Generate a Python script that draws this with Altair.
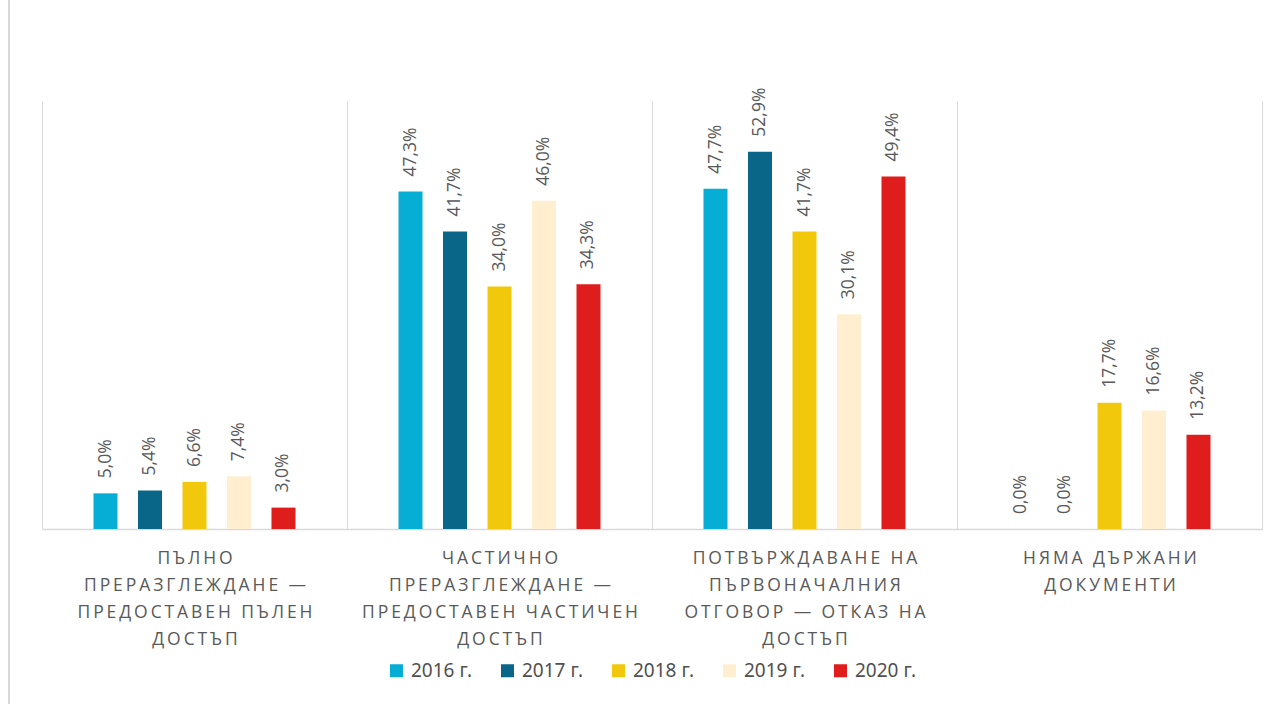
import altair as alt
import pandas as pd
import json

categories = [
    "Пълно преразглеждане — предоставен пълен достъп",
    "Частично преразглеждане — предоставен частичен достъп",
    "Потвърждаване на първоначалния отговор — отказ на достъп",
    "Няма държани документи",
]
category_lines = [
    ["ПЪЛНО", "ПРЕРАЗГЛЕЖДАНЕ —", "ПРЕДОСТАВЕН ПЪЛЕН", "ДОСТЪП"],
    ["ЧАСТИЧНО", "ПРЕРАЗГЛЕЖДАНЕ —", "ПРЕДОСТАВЕН ЧАСТИЧЕН", "ДОСТЪП"],
    ["ПОТВЪРЖДАВАНЕ НА", "ПЪРВОНАЧАЛНИЯ", "ОТГОВОР — ОТКАЗ НА", "ДОСТЪП"],
    ["НЯМА ДЪРЖАНИ", "ДОКУМЕНТИ"],
]
years = ["2016 г.", "2017 г.", "2018 г.", "2019 г.", "2020 г."]
v2016 = [5.0, 47.3, 47.7, 0.0]
v2017 = [5.4, 41.7, 52.9, 0.0]
v2018 = [6.6, 34.0, 41.7, 17.7]
v2019 = [7.4, 46.0, 30.1, 16.6]
v2020 = [3.0, 34.3, 49.4, 13.2]
colors = ["#06AED6", "#0A6688", "#F1C80C", "#FFEFD0", "#DF1D1C"]

series = [v2016, v2017, v2018, v2019, v2020]
rows = []
for y, vals in zip(years, series):
    for c, v in zip(categories, vals):
        rows.append({"cat": c, "year": y, "value": v})
df = pd.DataFrame(rows)

def spaced(s):
    return "\u2009".join(list(s))

label_map = {c: [spaced(l) for l in lines] for c, lines in zip(categories, category_lines)}
label_expr = json.dumps(label_map, ensure_ascii=False) + "[datum.label]"

base = alt.Chart(df).encode(
    x=alt.X("cat:N", sort=categories, title=None,
            scale=alt.Scale(paddingInner=0, paddingOuter=0),
            axis=alt.Axis(grid=True, tickBand="extent", ticks=False, labelAngle=0,
                          gridColor="#d9d9d9", domainColor="#d9d9d9", domainWidth=1.5,
                          labelExpr=label_expr, labelFont="Open Sans", labelFontSize=17.5,
                          labelColor="#595959", labelPadding=20, labelLineHeight=27,
                          labelBaseline="top", labelLimit=400)),
    xOffset=alt.XOffset("year:N", sort=years,
                        scale=alt.Scale(paddingInner=0, paddingOuter=0.927)),
    y=alt.Y("value:Q", scale=alt.Scale(domain=[0, 60]), axis=None),
)

bars = base.mark_bar(width=24).encode(
    color=alt.Color("year:N", sort=years, scale=alt.Scale(domain=years, range=colors),
                    legend=alt.Legend(title=None, orient="none", direction="horizontal",
                                      legendX=345, legendY=560, symbolType="square",
                                      symbolSize=169, symbolStrokeWidth=0,
                                      labelFont="Noto Sans", labelFontSize=19,
                                      labelColor="#505050", columnPadding=25,
                                      labelOffset=5)),
)

labels = base.transform_calculate(
    txt="replace(format(datum.value, '.1f'), '.', ',') + '%'"
).mark_text(angle=270, align="left", baseline="middle", dx=15,
            font="Open Sans", fontSize=17.5, color="#595959").encode(text="txt:N")

frame = alt.Chart(alt.Data(values=[{}])).mark_rule(color="#d9d9d9", strokeWidth=2).encode(
    x=alt.value(-33), y=alt.value(-101), y2=alt.value(603)
)

chart = alt.layer(frame, bars, labels).properties(
    width=1220, height=428,
    autosize=alt.AutoSizeParams(type="none"),
    padding={"left": 42, "top": 101, "right": 22, "bottom": 175},
).configure_view(stroke=None)

chart.save("out.html", embed_options={"renderer": "svg", "actions": False})
